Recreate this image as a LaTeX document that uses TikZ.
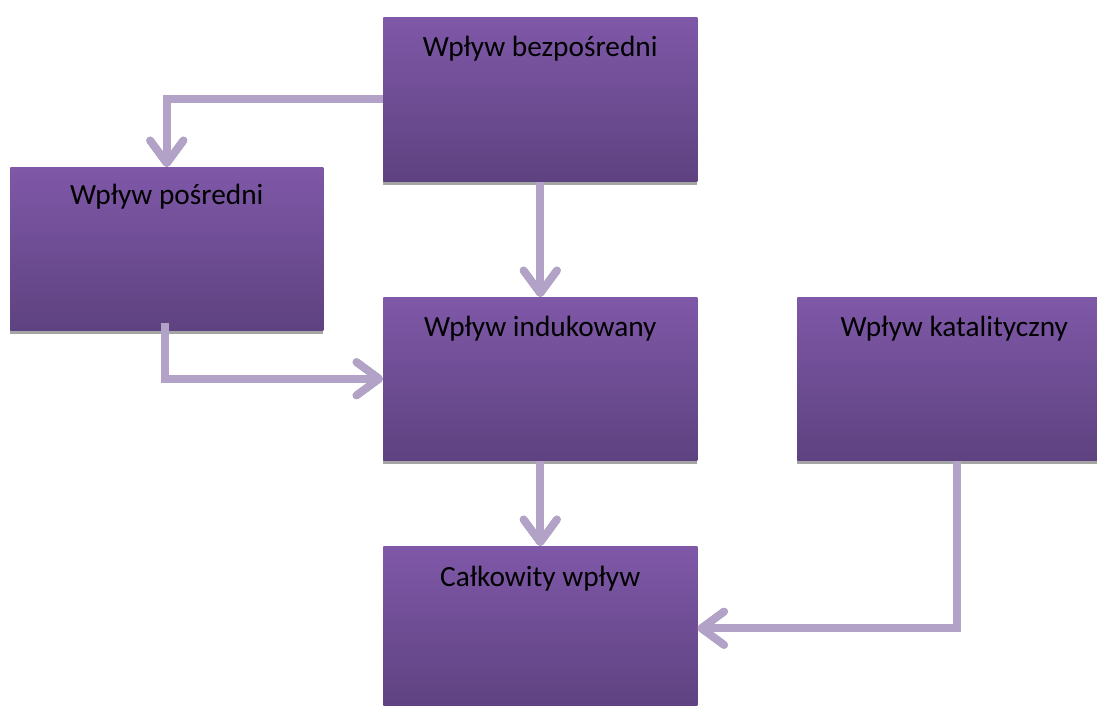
\documentclass[tikz,border=0pt]{standalone}
\usepackage{fontspec}
\setmainfont{Carlito}
\usetikzlibrary{arrows.meta,calc}
\definecolor{boxtop}{RGB}{127,88,168}
\definecolor{boxbot}{RGB}{94,66,128}
\definecolor{arrowc}{RGB}{179,162,199}
\definecolor{shadowc}{RGB}{165,165,165}
\tikzset{
  box/.style={rectangle, anchor=north west, inner sep=0pt,
    minimum width=235.5pt, minimum height=123pt,
    top color=boxtop, bottom color=boxbot, draw=none},
  boxshadow/.style={fill=shadowc, draw=none},
  lbl/.style={anchor=base, font=\fontsize{22}{26}\selectfont, text=black, inner sep=0pt},
  conn/.style={draw=arrowc, line width=5.8pt, line join=miter,
    -{Straight Barb[length=17pt, width=25pt, round]}},
  connshadow/.style={draw=shadowc, line width=5.8pt, line join=miter,
    -{Straight Barb[length=17pt, width=25pt, round]}},
}
\begin{document}
\begin{tikzpicture}[x=0.75pt, y=-0.75pt]
\useasboundingbox (0,0) rectangle (1097,706);
% shadows of boxes
\fill[boxshadow] (383,181) rectangle (697,185);
\fill[boxshadow] (10,330) rectangle (323,334);
\fill[boxshadow] (383,460) rectangle (697,464);
\fill[boxshadow] (797,460) rectangle (1111,464);
% boxes
\node[box] (bez) at (383,17) {};
\node[box, minimum width=234.75pt, minimum height=122.25pt] (pos) at (10,167) {};
\node[box, minimum height=122.25pt] (ind) at (383,297) {};
\node[box, minimum height=122.25pt] (kat) at (797,297) {};
\node[box] (cal) at (383,546) {};
% labels
\node[lbl] (bezt) at ($(bez.north)+(0,40)$) {Wpływ bezpośredni};
\node[lbl] (post) at ($(pos.north)+(0,38)$) {Wpływ pośredni};
\node[lbl] (indt) at ($(ind.north)+(0,39)$) {Wpływ indukowany};
\node[lbl] (katt) at ($(kat.north)+(0,39)$) {Wpływ katalityczny};
\node[lbl] (calt) at ($(cal.north)+(0,40)$) {Całkowity wpływ};
% connector start points
\coordinate (posout) at ($(pos.south)+(-2,-8)$);
\coordinate (katout) at ($(kat.south)+(3,0)$);
% connector shadows
\begin{scope}[shift={(1,2.5)}]
\draw[connshadow] (bez.west) -| (pos.north);
\draw[connshadow] (posout) |- (ind.west);
\draw[connshadow] (katout) |- (cal.east);
\draw[connshadow] (bez.south) -- (ind.north);
\draw[connshadow] (ind.south) -- (cal.north);
\end{scope}
% connectors
\draw[conn] (bez.west) -| (pos.north);
\draw[conn] (posout) |- (ind.west);
\draw[conn] (katout) |- (cal.east);
\draw[conn] (bez.south) -- (ind.north);
\draw[conn] (ind.south) -- (cal.north);
\end{tikzpicture}
\end{document}
